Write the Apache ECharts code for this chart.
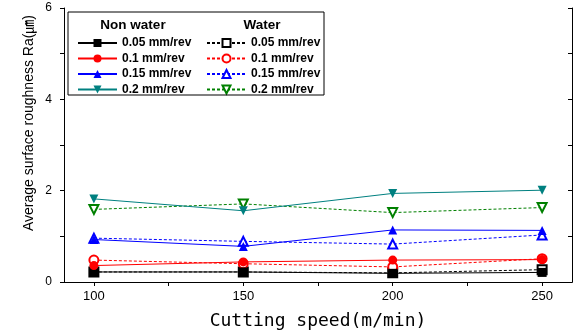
<!DOCTYPE html>
<html><head><meta charset="utf-8">
<script src="https://cdn.jsdelivr.net/npm/echarts@6/dist/echarts.min.js"></script>
<style>html,body{margin:0;padding:0;background:#fff}#c{width:576px;height:335px}</style>
</head><body><div id="c"></div>
<script>
const speeds = [100, 150, 200, 250];
const feedLabels = ['0.05 mm/rev', '0.1 mm/rev', '0.15 mm/rev', '0.2 mm/rev'];
const xTickLabels = [100, 150, 200, 250];
const yTickLabels = [0, 2, 4, 6];
const nonWater005 = [0.22, 0.22, 0.19, 0.21];
const nonWater01  = [0.36, 0.44, 0.48, 0.49];
const nonWater015 = [0.93, 0.78, 1.14, 1.13];
const nonWater02  = [1.82, 1.56, 1.94, 2.01];
const water005 = [0.22, 0.22, 0.20, 0.27];
const water01  = [0.48, 0.40, 0.33, 0.51];
const water015 = [0.96, 0.89, 0.83, 1.03];
const water02  = [1.59, 1.71, 1.52, 1.63];

const nonWaterData = [nonWater005, nonWater01, nonWater015, nonWater02];
const waterData = [water005, water01, water015, water02];
const nwColors = ['#000000', '#ff0000', '#0000ff', '#008080'];
const wColors = ['#000000', '#ff0000', '#0000ff', '#008000'];
const nwSymbols = ['rect', 'circle', 'triangle', 'triangle'];
const wSymbols = ['emptyRect', 'emptyCircle', 'emptyTriangle', 'emptyTriangle'];
const rot = [0, 0, 0, 180];

function pts(arr){ return speeds.map((s,i)=>[s, arr[i]]); }

const series = [];
feedLabels.forEach((f,i)=>{
  series.push({
    name: 'N ' + f, type: 'line', data: pts(nonWaterData[i]),
    symbol: nwSymbols[i], symbolSize: 9, symbolRotate: rot[i],
    lineStyle: {color: nwColors[i], width: 1, type: 'solid'},
    itemStyle: {color: nwColors[i]}, z: 3
  });
});
feedLabels.forEach((f,i)=>{
  series.push({
    name: 'W ' + f, type: 'line', data: pts(waterData[i]),
    symbol: wSymbols[i], symbolSize: 9, symbolRotate: rot[i],
    lineStyle: {color: wColors[i], width: 1, type: [3, 2]},
    itemStyle: {color: wColors[i], borderWidth: 1.2}, z: 2
  });
});

const legendText = {fontFamily: 'Liberation Sans, Arial', fontWeight: 'bold', fontSize: 12, color: '#000', lineHeight: 12};
const chart = echarts.init(document.getElementById('c'));
chart.setOption({
  animation: false,
  backgroundColor: '#fff',
  grid: {left: 64, right: 4, top: 8, bottom: 51, containLabel: false},
  xAxis: [{
    type: 'value', min: 90, max: 260, interval: 10,
    axisLine: {show: true, lineStyle: {color: '#000', width: 1}},
    axisTick: {show: true, inside: false, length: 4, customValues: [100,125,150,175,200,225,250], lineStyle: {color: '#000'}},
    axisLabel: {customValues: xTickLabels, fontFamily: 'Liberation Sans, Arial', fontSize: 13, color: '#000', margin: 8},
    splitLine: {show: false},
    name: 'Cutting speed(m/min)', nameLocation: 'middle', nameGap: 30,
    nameTextStyle: {fontFamily: 'DejaVu Sans Mono', fontSize: 18, color: '#000'}
  }, {
    type: 'value', position: 'top', min: 90, max: 260, interval: 10,
    axisLine: {show: true, lineStyle: {color: '#000', width: 1}},
    axisTick: {show: true, inside: true, length: 4, customValues: [100,125,150,175,200,225,250], lineStyle: {color: '#000'}},
    axisLabel: {show: false}, splitLine: {show: false}
  }],
  yAxis: [{
    type: 'value', min: 0, max: 6, interval: 1,
    axisLine: {show: true, lineStyle: {color: '#000', width: 1}},
    axisTick: {show: true, inside: false, length: 4, lineStyle: {color: '#000'}},
    axisLabel: {customValues: yTickLabels, fontFamily: 'Liberation Sans, Arial', fontSize: 12, color: '#000', margin: 12},
    splitLine: {show: false}
  }, {
    type: 'value', position: 'right', min: 0, max: 6, interval: 1,
    axisLine: {show: true, lineStyle: {color: '#000', width: 1}},
    axisTick: {show: true, inside: true, length: 4, lineStyle: {color: '#000'}},
    axisLabel: {show: false}, splitLine: {show: false}
  }],
  legend: [{
    data: feedLabels.map(f=>'N ' + f), orient: 'vertical', left: 77, top: 37,
    itemWidth: 39, itemHeight: 10, itemGap: 3.5, padding: 0,
    formatter: n => n.slice(2), textStyle: legendText
  }, {
    data: feedLabels.map(f=>'W ' + f), orient: 'vertical', left: 206, top: 37,
    itemWidth: 39, itemHeight: 10, itemGap: 3.5, padding: 0,
    formatter: n => n.slice(2), textStyle: legendText
  }],
  graphic: [
    {type: 'rect', shape: {x: 68, y: 12, width: 256, height: 83}, style: {fill: 'none', stroke: '#000', lineWidth: 1}, z: 10},
    {type: 'text', x: 133, y: 25, style: {text: 'Non water', fontFamily: 'Liberation Sans, Arial', fontWeight: 'bold', fontSize: 13.5, fill: '#000', textAlign: 'center', textVerticalAlign: 'middle'}, z: 10},
    {type: 'text', x: 262, y: 25, style: {text: 'Water', fontFamily: 'Liberation Sans, Arial', fontWeight: 'bold', fontSize: 13.5, fill: '#000', textAlign: 'center', textVerticalAlign: 'middle'}, z: 10},
    {type: 'text', x: 29, y: 123, rotation: Math.PI / 2, style: {text: 'Average surface roughness Ra(㎛)', fontFamily: 'Liberation Sans, Arial, Noto Sans CJK KR', fontSize: 14, fill: '#000', textAlign: 'center', textVerticalAlign: 'middle'}, z: 10}
  ],
  series: series
});
</script></body></html>
